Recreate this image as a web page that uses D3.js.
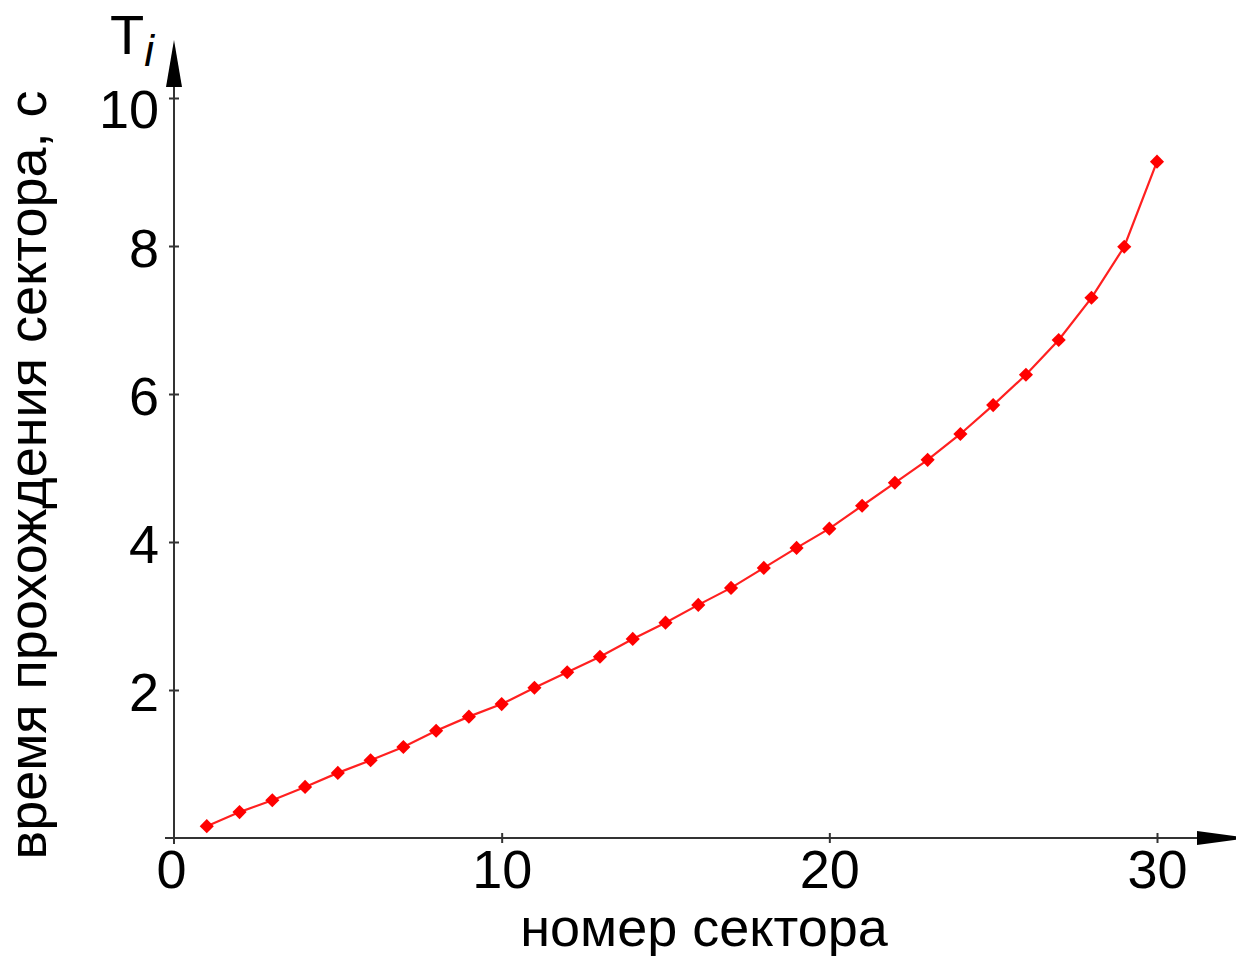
<!DOCTYPE html>
<html>
<head>
<meta charset="utf-8">
<script src="https://cdn.jsdelivr.net/npm/d3@7"></script>
<style>
  body { margin: 0; background: #fff; }
  svg text { font-family: "Liberation Sans", Arial, sans-serif; fill: #000; }
</style>
</head>
<body>
<svg width="1236" height="956"></svg>
<script>
// sector numbers and passage time per sector
var sectors = [1,2,3,4,5,6,7,8,9,10,11,12,13,14,15,16,17,18,19,20,21,22,23,24,25,26,27,28,29,30];
var times = [0.16,0.35,0.51,0.69,0.88,1.05,1.23,1.45,1.64,1.81,
             2.03,2.24,2.45,2.69,2.91,3.15,3.38,3.65,3.92,4.18,
             4.49,4.80,5.11,5.46,5.85,6.26,6.73,7.30,7.99,9.14];
var xTicks = [0, 10, 20, 30];
var yTicks = [2, 4, 6, 8, 10];

var svg = d3.select("svg"),
    width = +svg.attr("width"),
    height = +svg.attr("height");

var x = d3.scaleLinear().domain([0, 30]).range([174, 1157]);
var y = d3.scaleLinear().domain([0, 10]).range([838, 98]);

// axes lines with arrows
svg.append("line")
    .attr("x1", 165).attr("x2", width)
    .attr("y1", y(0)).attr("y2", y(0))
    .attr("stroke", "#333").attr("stroke-width", 2);
svg.append("line")
    .attr("x1", x(0)).attr("x2", x(0))
    .attr("y1", y(0) + 6).attr("y2", 60)
    .attr("stroke", "#333").attr("stroke-width", 2);

// arrow heads
svg.append("path")
    .attr("d", "M" + x(0) + ",40 L" + (x(0) + 8) + ",87 L" + (x(0) - 8) + ",87 Z")
    .attr("fill", "#000");
svg.append("path")
    .attr("d", "M1197," + (y(0) - 7) + " L1250," + y(0) + " L1197," + (y(0) + 7) + " Z")
    .attr("fill", "#000");

// x axis ticks + labels
var xAxis = d3.axisBottom(x).tickValues(xTicks).tickSize(0).tickPadding(12)
    .tickFormat(d3.format("d"));
var gx = svg.append("g").attr("transform", "translate(0," + y(0) + ")").call(xAxis);
gx.select(".domain").remove();
gx.selectAll(".tick line").attr("y1", -5).attr("y2", 5).attr("stroke", "#333").attr("stroke-width", 2);
gx.selectAll(".tick text").style("font-size", "54px").attr("font-family", null);
gx.selectAll(".tick").filter(function(d) { return d === 0; }).select("line").remove();
gx.selectAll(".tick").filter(function(d) { return d === 0; }).select("text").attr("x", -3);

// y axis ticks + labels
var yAxis = d3.axisLeft(y).tickValues(yTicks).tickSize(0).tickPadding(15)
    .tickFormat(d3.format("d"));
var gy = svg.append("g").attr("transform", "translate(" + x(0) + ",0)").call(yAxis);
gy.select(".domain").remove();
gy.selectAll(".tick line").attr("x1", -5).attr("x2", 5).attr("stroke", "#333").attr("stroke-width", 2);
gy.selectAll(".tick text").style("font-size", "54px").attr("font-family", null).attr("y", 3);
// top label sits a bit lower, under the arrow
gy.selectAll(".tick").filter(function(d) { return d === 10; }).select("text").attr("y", 12);

// curve
var line = d3.line()
    .x(function(d, i) { return x(sectors[i]); })
    .y(function(d) { return y(d); });

svg.append("path")
    .datum(times)
    .attr("d", line)
    .attr("fill", "none")
    .attr("stroke", "#ff2020")
    .attr("stroke-width", 2.2);

svg.selectAll(".pt")
    .data(times)
    .enter().append("path")
    .attr("class", "pt")
    .attr("d", d3.symbol(d3.symbolSquare, 100))
    .attr("transform", function(d, i) { return "translate(" + x(sectors[i]) + "," + y(d) + ") rotate(45)"; })
    .attr("fill", "#ff0000");

// titles
svg.append("text")
    .attr("transform", "translate(46,475) rotate(-90)")
    .attr("text-anchor", "middle")
    .style("font-size", "54px")
    .text("время прохождения сектора, с");

svg.append("text")
    .attr("x", 704).attr("y", 946)
    .attr("text-anchor", "middle")
    .style("font-size", "54px")
    .text("номер сектора");

var ti = svg.append("text").attr("x", 110).attr("y", 54).style("font-size", "56px");
ti.append("tspan").text("T");
ti.append("tspan").attr("dy", 12).style("font-style", "italic").style("font-size", "44px").text("i");
</script>
</body>
</html>
